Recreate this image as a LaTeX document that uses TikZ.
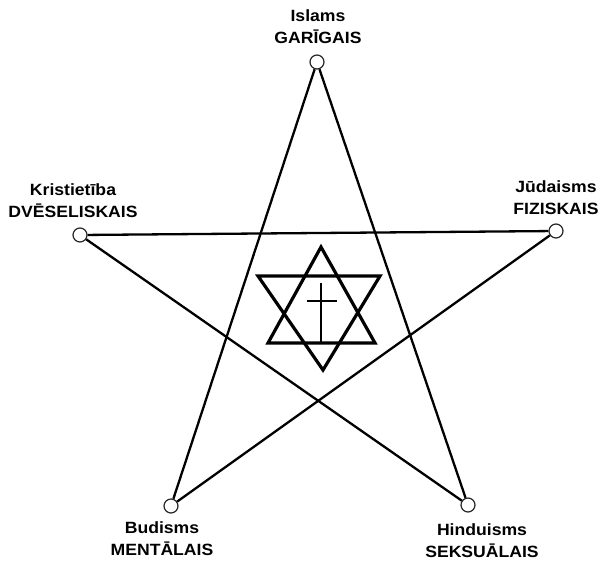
\documentclass[tikz,border=0pt]{standalone}
\usepackage{fontspec}
\setmainfont{Liberation Sans}[FakeStretch=1.08]

\begin{document}
\begin{tikzpicture}[x=1pt,y=-1pt,
  pnt/.style={circle,draw=black!85,fill=white,line width=1.2pt,inner sep=0pt,minimum size=14pt},
  lbl/.style={align=center,inner sep=0pt,anchor=north,
              font=\bfseries\fontsize{16.3}{22}\selectfont},
  ray/.style={line width=2.3pt},
  hex/.style={line width=3.2pt,line join=miter},
  crs/.style={line width=2.3pt}
]
  \useasboundingbox (0,0) rectangle (607,560);

  \node[pnt] (isl) at (317,62)  {};
  \node[pnt] (kri) at (80,235)  {};
  \node[pnt] (jud) at (556,231) {};
  \node[pnt] (bud) at (171,506) {};
  \node[pnt] (hin) at (468,505) {};

  \node[lbl] (islL) at (318,9)    {Islams\\GARĪGAIS};
  \node[lbl] (kriL) at (73,183)   {Kristietība\\DVĒSELISKAIS};
  \node[lbl] (judL) at (556,180)  {Jūdaisms\\FIZISKAIS};
  \node[lbl] (budL) at (162,521)  {Budisms\\MENTĀLAIS};
  \node[lbl] (hinL) at (482,523)  {Hinduisms\\SEKSUĀLAIS};

  \draw[ray] (isl) -- (bud); \draw[ray] (isl) -- (hin);
  \draw[ray] (kri) -- (jud); \draw[ray] (kri) -- (hin);
  \draw[ray] (jud) -- (bud);

  % star with cross
  \draw[hex] (321,247) -- (375,343) -- (268,343) -- cycle;
  \draw[hex] (258,276) -- (380,276) -- (323,370) -- cycle;
  \draw[crs] (321,283) -- (321,343);
  \draw[crs] (307,301) -- (337,301);
\end{tikzpicture}
\end{document}
